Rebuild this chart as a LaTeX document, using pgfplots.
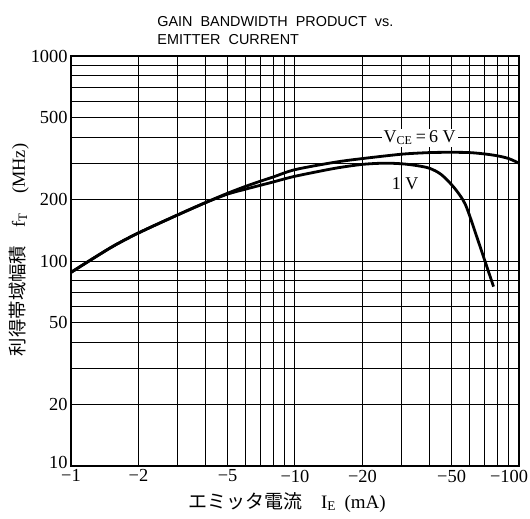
\documentclass[border=0pt]{standalone}
\usepackage{fontspec}
\setmainfont{Liberation Serif}
\newfontfamily\cjk{Noto Sans CJK JP}
\newfontfamily\titlefont{Liberation Sans}
\usepackage{pgfplots}
\pgfplotsset{compat=1.18}

\begin{document}
\begin{tikzpicture}
\begin{axis}[
  scale only axis, width=224pt, height=205pt,
  xmode=log, ymode=log,
  xmin=1, xmax=100, ymin=10, ymax=1000,
  xtick={1,2,5,10,20,50,100},
  xticklabels={−1,−2,−5,−10,−20,−50,\kern-10pt−100},
  minor xtick={3,4,6,7,8,9,30,40,60,70,80,90},
  ytick={10,20,50,100,200,500,1000},
  yticklabels={\raisebox{3.5pt}{10},20,50,100,200,500,1000},
  minor ytick={30,40,60,70,80,90,300,400,600,700,800,900},
  grid=both,
  major grid style={black, line width=0.5pt},
  minor grid style={black, line width=0.5pt},
  major tick length=0pt, minor tick length=0pt,
  axis line style={line width=1pt},
  tick label style={font=\fontsize{9.2}{10}\selectfont},
  xticklabel style={inner sep=0.5pt, yshift=-1.2pt},
  yticklabel style={inner sep=1.5pt},
  title={GAIN\ \ BANDWIDTH\ \ PRODUCT\ \ vs.\\EMITTER\ \ CURRENT},
  title style={at={(axis description cs:0.192,1.067)}, anchor=north west,
    align=left, inner sep=0pt, font=\titlefont\fontsize{7.2}{8.7}\selectfont},
  xlabel={{\cjk エミッタ電流}\quad I\textsubscript{E}\ \,(mA)},
  xlabel style={at={(axis description cs:0.482,-0.088)}, anchor=center,
    font=\fontsize{9.5}{11}\selectfont},
  ylabel={{\cjk 利得帯域幅積}\quad f\textsubscript{T}\quad (MHz)},
  ylabel style={at={(axis description cs:-0.116,0.527)}, anchor=center,
    font=\fontsize{9.2}{11}\selectfont},
]
% V_CE = 6 V
\addplot[black, line width=1.4pt, smooth] coordinates {
  (1,88) (1.5,116) (2,137) (3,168) (4,193) (5,214) (6,231) (7,245) (8,257)
  (10,279) (15,303) (20,316) (30,332) (40,338) (50,339) (60,338) (70,333)
  (80,326) (90,316) (100,300)
};
% V_CE = 1 V
\addplot[black, line width=1.4pt, smooth, tension=0.5] coordinates {
  (1,88) (1.5,116) (2,137) (3,168) (4,193) (5,212) (6,224) (7,234) (8,243)
  (10,259) (15,283) (20,296) (25,300) (30,298) (35,292) (40,283) (45,264)
  (51,230) (56,200) (59,177) (65,130) (77,75)
};
\node[fill=white, inner sep=1pt, font=\fontsize{9}{10}\selectfont]
  at (axis cs:36,400) {V\textsubscript{CE}\,=\,6 V};
\node[inner sep=1pt, font=\fontsize{9}{10}\selectfont]
  at (axis cs:31,239) {1 V};
\end{axis}
\pgfresetboundingbox
\path ([shift={(-35.5pt,-26pt)}]current axis.south west)
  rectangle ([shift={(5.5pt,28pt)}]current axis.north east);
\end{tikzpicture}
\end{document}
